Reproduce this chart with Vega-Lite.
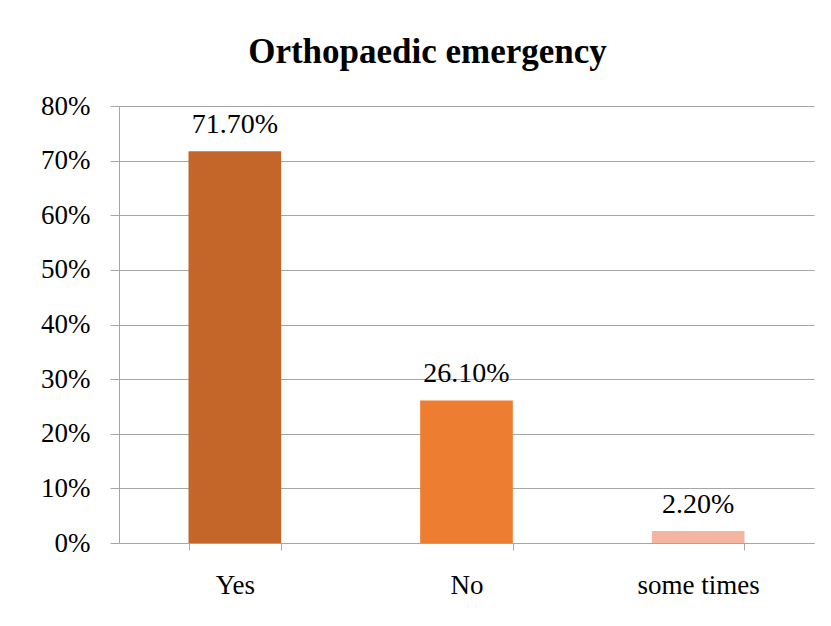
{
  "$schema": "https://vega.github.io/schema/vega-lite/v6.json",
  "width": 695,
  "height": 437,
  "autosize": {"type": "none"},
  "padding": {"left": 119, "top": 106, "right": 17, "bottom": 83},
  "background": "white",
  "config": {
    "view": {"stroke": null},
    "font": "Times New Roman, Liberation Serif, serif",
    "axis": {"labelFont": "Times New Roman, Liberation Serif, serif"},
    "text": {"font": "Times New Roman, Liberation Serif, serif"}
  },
  "title": {
    "text": "Orthopaedic emergency",
    "font": "Times New Roman, Liberation Serif, serif",
    "fontSize": 35,
    "fontWeight": "bold",
    "color": "#000000",
    "anchor": "middle",
    "frame": "group",
    "dx": -39,
    "offset": 22
  },
  "data": {
    "values": [
      {"answer": "Yes", "share": 0.717},
      {"answer": "No", "share": 0.261},
      {"answer": "some times", "share": 0.022}
    ]
  },
  "encoding": {
    "x": {
      "field": "answer",
      "type": "nominal",
      "sort": ["Yes", "No", "some times"],
      "scale": {"paddingInner": 0.6, "paddingOuter": 0.3},
      "axis": {
        "title": null,
        "labelAngle": 0,
        "labelFont": "Times New Roman, Liberation Serif, serif",
        "labelFontSize": 27,
        "labelColor": "#000000",
        "labelPadding": 22,
        "tickBand": "extent",
        "tickSize": 7,
        "tickColor": "#A6A6A6",
        "domainColor": "#A6A6A6",
        "grid": false
      }
    },
    "y": {
      "field": "share",
      "type": "quantitative",
      "scale": {"domain": [0, 0.8]},
      "axis": {
        "title": null,
        "format": ".0%",
        "values": [0, 0.1, 0.2, 0.3, 0.4, 0.5, 0.6, 0.7, 0.8],
        "labelFont": "Times New Roman, Liberation Serif, serif",
        "labelFontSize": 27,
        "labelColor": "#000000",
        "labelPadding": 20,
        "tickSize": 9,
        "tickColor": "#A6A6A6",
        "domainColor": "#A6A6A6",
        "grid": true,
        "gridColor": "#A6A6A6",
        "gridWidth": 1
      }
    }
  },
  "layer": [
    {
      "mark": {"type": "bar"},
      "encoding": {
        "color": {
          "field": "answer",
          "type": "nominal",
          "scale": {
            "domain": ["Yes", "No", "some times"],
            "range": ["#C4652A", "#ED7D31", "#F4B6A0"]
          },
          "legend": null
        }
      }
    },
    {
      "mark": {
        "type": "text",
        "font": "Times New Roman, Liberation Serif, serif",
        "fontSize": 28,
        "color": "#000000",
        "baseline": "alphabetic",
        "dy": -18
      },
      "encoding": {
        "text": {"field": "share", "type": "quantitative", "format": ".2%"}
      }
    }
  ]
}
